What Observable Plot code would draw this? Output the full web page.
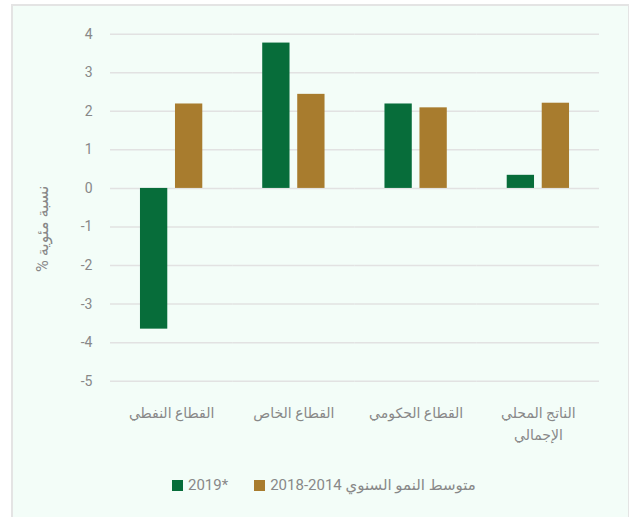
<!DOCTYPE html>
<html><head><meta charset="utf-8">
<script src="https://cdn.jsdelivr.net/npm/d3@7"></script>
<script src="https://cdn.jsdelivr.net/npm/@observablehq/plot@0.6"></script>
<style>
body{margin:0;background:#fff;width:629px;height:517px;overflow:hidden;position:relative;font-family:Roboto,"DejaVu Sans",sans-serif;}
#frame{position:absolute;left:11px;top:4px;width:615px;height:520px;border:2px solid #e4e4e4;background:#f3fdf8;}
#chart{position:absolute;left:0;top:0;}
#legend{position:absolute;left:172px;top:476px;display:flex;align-items:center;font-size:15px;color:#888;white-space:nowrap;}
.sw{width:11px;height:11px;display:inline-block;margin-right:5px}
.item{display:flex;align-items:center;margin-right:26px}
</style></head><body>
<div id="frame"></div><div id="chart"></div><div id="legend"></div>
<script>
const categories = ["القطاع النفطي", "القطاع الخاص", "القطاع الحكومي", "الناتج المحلي\nالإجمالي"];
const seriesNames = ["2019*", "2018-2014 متوسط النمو السنوي"];
const values2019 = [-3.65, 3.77, 2.19, 0.34];
const avg2014to2018 = [2.19, 2.44, 2.09, 2.21];
const yTicks = [-5, -4, -3, -2, -1, 0, 1, 2, 3, 4];
const colors = ["#076d3a", "#a87c2e"];
const yLabel = "نسبة مئوية %\u200F";

const rows = categories.flatMap((c, i) => [
  {category: c, series: seriesNames[0], value: values2019[i]},
  {category: c, series: seriesNames[1], value: avg2014to2018[i]}
]);

const chart = Plot.plot({
  width: 629, height: 450,
  marginLeft: 110, marginRight: 30, marginTop: 33.7, marginBottom: 69.3,
  style: {background: "transparent", fontFamily: 'Roboto, "DejaVu Sans", sans-serif', color: "#888"},
  fx: {domain: categories, padding: 0, round: false, label: null},
  x: {domain: seriesNames, paddingInner: 0.22, paddingOuter: 0.856, round: false, axis: null},
  y: {domain: [-5, 4], label: null},
  color: {domain: seriesNames, range: colors},
  marks: [
    Plot.gridY(yTicks, {stroke: "#e2e2e2", strokeOpacity: 1, strokeWidth: 1.5}),
    Plot.axisY(yTicks, {tickSize: 0, tickPadding: 18, fontSize: 14, label: null, tickFormat: d => String(d)}),
    Plot.axisFx({anchor: "bottom", tickSize: 0, tickPadding: 21, fontSize: 14, lineHeight: 1.6, label: null}),
    Plot.barY(rows, {fx: "category", x: "series", y: "value", fill: "series"}),
    Plot.text([yLabel], {frameAnchor: "left", facetAnchor: "left", textAnchor: "middle", rotate: -90, dx: -68, dy: 21, fontSize: 16, fill: "#888"})
  ]
});
document.getElementById("chart").appendChild(chart);

const legend = document.getElementById("legend");
seriesNames.forEach((s, i) => {
  const item = document.createElement("div");
  item.className = "item";
  const sw = document.createElement("span");
  sw.className = "sw";
  sw.style.background = colors[i];
  const t = document.createElement("span");
  t.textContent = s;
  t.dir = "ltr";
  item.appendChild(sw); item.appendChild(t);
  legend.appendChild(item);
});
</script>
</body></html>
